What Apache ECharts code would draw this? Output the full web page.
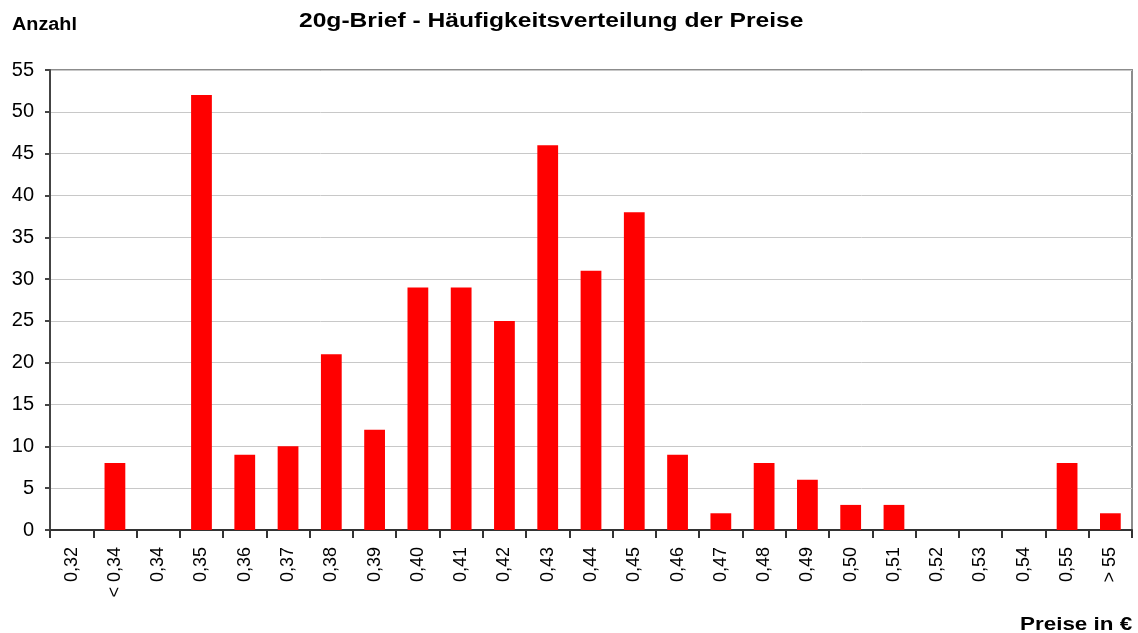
<!DOCTYPE html>
<html>
<head>
<meta charset="utf-8">
<script src="https://cdn.jsdelivr.net/npm/echarts@6/dist/echarts.min.js"></script>
<style>
  html, body { margin: 0; padding: 0; background: #fff; }
  #chart { width: 1138px; height: 633px; }
</style>
</head>
<body>
<div id="chart"></div>
<script>
// Price classes (EUR) for a 20g letter and how often each price occurred
const categories = ['0,32', '< 0,34', '0,34', '0,35', '0,36', '0,37', '0,38', '0,39', '0,40', '0,41',
  '0,42', '0,43', '0,44', '0,45', '0,46', '0,47', '0,48', '0,49', '0,50', '0,51',
  '0,52', '0,53', '0,54', '0,55', '> 55'];
const counts = [0, 8, 0, 52, 9, 10, 21, 12, 29, 29,
  25, 46, 31, 38, 9, 2, 8, 6, 3, 3,
  0, 0, 0, 8, 2];

const titleText = '20g-Brief - Häufigkeitsverteilung der Preise';
const yAxisTitle = 'Anzahl';
const xAxisTitle = 'Preise in €';

const font = '"Liberation Sans", Arial, sans-serif';
const chart = echarts.init(document.getElementById('chart'), null, { renderer: 'canvas' });

// headings use a slightly widened bold face
function heading(text, x, y, size, sx) {
  return {
    type: 'text', x: x, y: y, scaleX: sx,
    style: { text: text, font: 'bold ' + size + 'px ' + font, fill: '#000',
             textAlign: 'left', textVerticalAlign: 'top' }
  };
}

chart.setOption({
  animation: false,
  backgroundColor: '#fff',
  graphic: [
    heading(titleText, 299, 11, 20, 1.23),
    heading(yAxisTitle, 12, 16, 18, 1.1),
    heading(xAxisTitle, 1020, 615, 19, 1.18)
  ],
  grid: {
    left: 50, right: 6, top: 70, bottom: 103,
    show: true, borderColor: '#8c8c8c', borderWidth: 2, backgroundColor: 'transparent'
  },
  xAxis: {
    type: 'category',
    data: categories,
    boundaryGap: true,
    axisLine: { lineStyle: { color: '#333', width: 2 } },
    axisTick: { show: true, interval: 0, length: 8, lineStyle: { color: '#333', width: 2 } },
    axisLabel: {
      interval: 0, rotate: 90, margin: 17,
      fontFamily: font, fontSize: 18, color: '#000'
    },
    splitLine: { show: false }
  },
  yAxis: {
    type: 'value',
    min: 0, max: 55, interval: 5,
    axisLine: { show: true, lineStyle: { color: '#444', width: 2 } },
    axisTick: { show: true, length: 5, lineStyle: { color: '#444', width: 2 } },
    axisLabel: { fontFamily: font, fontSize: 20, color: '#000', margin: 16 },
    splitLine: { show: true, lineStyle: { color: '#c8c8c8', width: 1 } }
  },
  series: [{
    type: 'bar',
    data: counts,
    barWidth: '48%',
    itemStyle: { color: '#ff0000' }
  }]
});
</script>
</body>
</html>
